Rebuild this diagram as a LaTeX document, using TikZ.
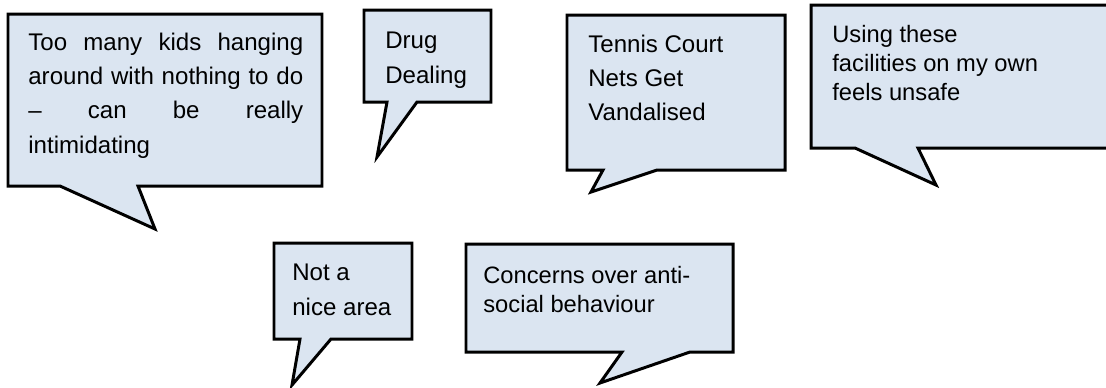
\documentclass[tikz,border=0pt]{standalone}
\usepackage{fontspec}
\setmainfont{Liberation Sans}
\definecolor{bubclr}{RGB}{219,229,241}

\begin{document}
\begin{tikzpicture}[
    x=0.02cm, y=-0.02cm,
    font=\fontsize{13.7}{19.4}\selectfont,
    bubble/.style ={draw, fill=bubclr, line width=1.7pt, line join=miter},
    say/.style    ={anchor=north west, inner sep=0pt, align=left},
    tight/.style  ={say, font=\fontsize{13.5}{16.5}\selectfont},
]

% =============== Frame ===============
\useasboundingbox (0,0) rectangle (1106,387);
\clip (0,0) rectangle (1106,387);

% =============== Speech bubbles: box l/t/r/b, tail base a/b, tip x/y ===============
\foreach \l/\t/\r/\b/\ta/\tb/\tx/\ty in {
    8/14/322/186/60/138/155/229,
    364/10/491/102/387/417/377/157,
    567/15/785/170/603/657/591/192,
    811/5/1115/148/855/918/936/185,
    274/243/412/339/300/331/292/385,
    466/244/733/352/622/690/600/383}{%
  \draw[bubble] (\l,\t) -- (\r,\t) -- (\r,\b) -- (\tb,\b) -- (\tx,\ty)
                -- (\ta,\b) -- (\l,\b) -- cycle;
}

% =============== Top row ===============
\node[say, text width=5.5cm, align=justify] (kids) at (28,33)
  {Too many kids hanging\linebreak around with nothing to do\linebreak
   – can be really\linebreak intimidating};
\node[say] (drugs)  at (385,32) {Drug\\Dealing};
\node[say] (tennis) at (588,35) {Tennis Court\\Nets Get\\Vandalised};
\node[tight] (alone) at (832,25) {Using these\\facilities on my own\\feels unsafe};

% =============== Bottom row ===============
\node[say]   (area)  at (292,264) {Not a\\nice area};
\node[tight] (asb)   at (483,266) {Concerns over anti-\\social behaviour};

\end{tikzpicture}
\end{document}
